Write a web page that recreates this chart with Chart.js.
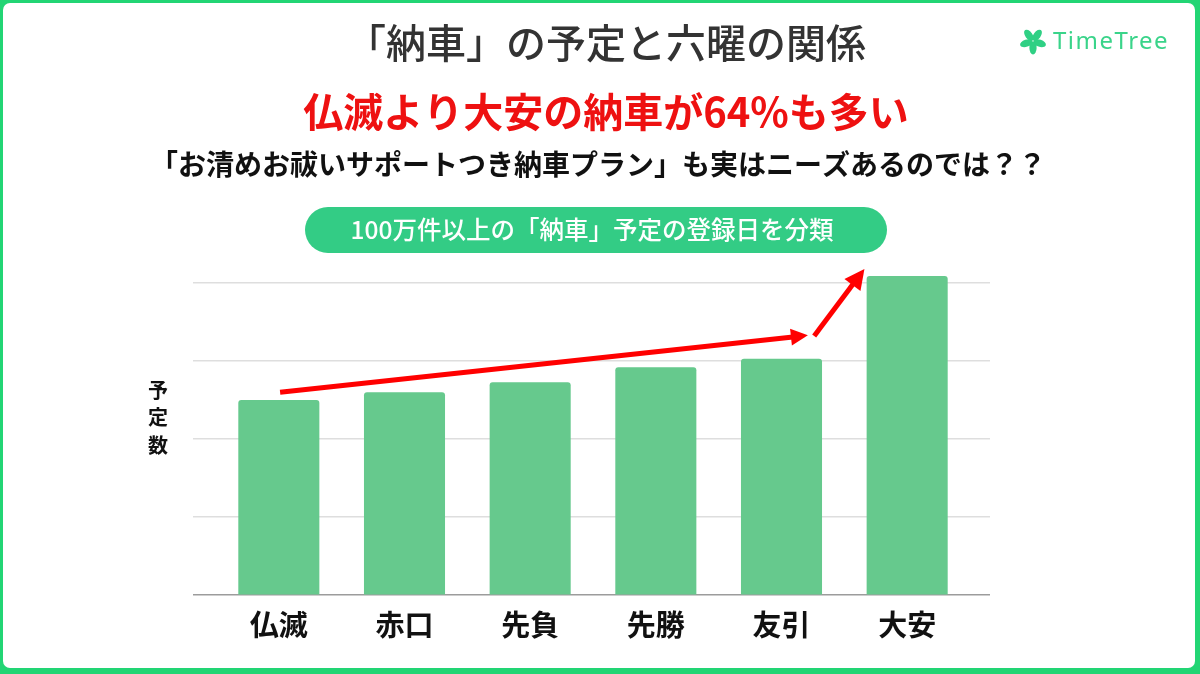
<!DOCTYPE html>
<html lang="ja">
<head>
<meta charset="utf-8">
<script src="https://cdn.jsdelivr.net/npm/chart.js@4.4.1/dist/chart.umd.min.js"></script>
<style>
  html, body { margin: 0; padding: 0; background: #fff; }
  canvas { display: block; }
</style>
</head>
<body>
<canvas id="chart" width="1200" height="674"></canvas>
<script>
// Données (valeurs relatives, 1 unité = 1 ligne de grille)
const labels = ['仏滅', '赤口', '先負', '先勝', '友引', '大安'];
const counts = [2.50, 2.60, 2.73, 2.92, 3.03, 4.09];
const yTicks = [0, 1, 2, 3, 4];
const yMax = 4.3;

// Flèches rouges : [index catégorie, valeur]
const arrowMain = { from: [0.01, 2.60], to: [4.21, 3.33], head: 17 };
const arrowJump = { from: [4.26, 3.32], to: [4.66, 4.18], head: 20 };

const FONT = '"Noto Sans CJK JP", "Noto Sans", sans-serif';
const GREEN = '#22d574';

// Helpers
function gridColor(ctx) {
  return ctx.tick && ctx.tick.value === 0 ? '#9c9c9c' : '#dedede';
}
function fixTicks(scale) {
  scale.ticks = yTicks.map(v => ({ value: v }));
}

// Cadre vert + fond blanc
const framePlugin = {
  id: 'frame',
  beforeDraw(chart) {
    const c = chart.ctx;
    c.save();
    c.fillStyle = GREEN;
    c.fillRect(0, 0, chart.width, chart.height);
    c.fillStyle = '#fff';
    c.beginPath();
    c.roundRect(3, 3, chart.width - 8, chart.height - 9, 7);
    c.fill();
    c.restore();
  }
};

function drawArrow(c, x, y, a) {
  const x1 = x.getPixelForValue(a.from[0]), y1 = y.getPixelForValue(a.from[1]);
  const x2 = x.getPixelForValue(a.to[0]), y2 = y.getPixelForValue(a.to[1]);
  const ang = Math.atan2(y2 - y1, x2 - x1);
  const bx = x2 - Math.cos(ang) * a.head, by = y2 - Math.sin(ang) * a.head;
  c.strokeStyle = '#ff0000';
  c.fillStyle = '#ff0000';
  c.lineWidth = 5;
  c.lineCap = 'butt';
  c.beginPath();
  c.moveTo(x1, y1);
  c.lineTo(bx + Math.cos(ang) * 2, by + Math.sin(ang) * 2);
  c.stroke();
  const w = a.head * 0.5;
  c.beginPath();
  c.moveTo(x2, y2);
  c.lineTo(bx + Math.sin(ang) * w, by - Math.cos(ang) * w);
  c.lineTo(bx - Math.sin(ang) * w, by + Math.cos(ang) * w);
  c.closePath();
  c.fill();
}

function drawLogo(c, cx, cy) {
  c.fillStyle = '#2fd084';
  for (let i = 0; i < 5; i++) {
    const ang = (-126 + i * 72) * Math.PI / 180;
    c.save();
    c.translate(cx, cy);
    c.rotate(ang);
    c.beginPath();
    c.ellipse(7, 0, 6.5, 3.6, 0, 0, Math.PI * 2);
    c.fill();
    c.restore();
  }
  c.fillStyle = '#3ad48a';
  c.font = `400 24px "Noto Sans", ${FONT}`;
  c.textAlign = 'left';
  c.textBaseline = 'middle';
  c.letterSpacing = '1.5px';
  c.fillText('TimeTree', cx + 20, cy + 1);
  c.letterSpacing = '0px';
}

// Titres, bandeau, libellé vertical, flèches
const textPlugin = {
  id: 'texts',
  afterDraw(chart) {
    const c = chart.ctx;
    const { x, y } = chart.scales;
    c.save();
    c.textAlign = 'center';
    c.textBaseline = 'middle';

    c.fillStyle = '#333';
    c.font = `500 40px ${FONT}`;
    c.fillText('「納車」の予定と六曜の関係', 606, 43);

    c.fillStyle = '#ee1111';
    c.font = `bold 40px ${FONT}`;
    c.fillText('仏滅より大安の納車が64%も多い', 606, 112);

    c.fillStyle = '#111';
    c.font = `bold 28px ${FONT}`;
    c.fillText('「お清めお祓いサポートつき納車プラン」も実はニーズあるのでは？？', 598, 164);

    c.fillStyle = '#33cc85';
    c.beginPath();
    c.roundRect(305, 207, 582, 46, 23);
    c.fill();
    c.fillStyle = '#fff';
    c.font = `500 24.5px ${FONT}`;
    c.fillText('100万件以上の「納車」予定の登録日を分類', 592, 230);

    c.fillStyle = '#111';
    c.font = `bold 20px ${FONT}`;
    ['予', '定', '数'].forEach((ch, i) => c.fillText(ch, 158, 390 + i * 27.5));

    drawArrow(c, x, y, arrowMain);
    drawArrow(c, x, y, arrowJump);

    drawLogo(c, 1033, 41);
    c.restore();
  }
};

new Chart(document.getElementById('chart'), {
  type: 'bar',
  data: {
    labels,
    datasets: [{
      data: counts,
      backgroundColor: '#66c98d',
      borderRadius: { topLeft: 3, topRight: 3 },
      borderSkipped: 'bottom',
      barPercentage: 0.645,
      categoryPercentage: 1
    }]
  },
  options: {
    responsive: false,
    animation: false,
    layout: { padding: { left: 193, right: 210, top: 259.6, bottom: 20 } },
    plugins: { legend: { display: false }, tooltip: { enabled: false } },
    scales: {
      x: {
        grid: { display: false, drawTicks: false },
        border: { display: false },
        ticks: { color: '#111', padding: 12, font: { family: FONT, size: 29, weight: 'bold' } }
      },
      y: {
        min: 0, max: yMax,
        afterBuildTicks: fixTicks,
        ticks: { display: false },
        border: { display: false },
        grid: { color: gridColor, lineWidth: 1.5, drawTicks: true, tickLength: 23 }
      },
      y2: {
        type: 'linear', position: 'right',
        min: 0, max: yMax,
        afterBuildTicks: fixTicks,
        ticks: { display: false },
        border: { display: false },
        grid: { color: gridColor, lineWidth: 1.5, drawOnChartArea: false, drawTicks: true, tickLength: 20 }
      }
    }
  },
  plugins: [framePlugin, textPlugin]
});
</script>
</body>
</html>
